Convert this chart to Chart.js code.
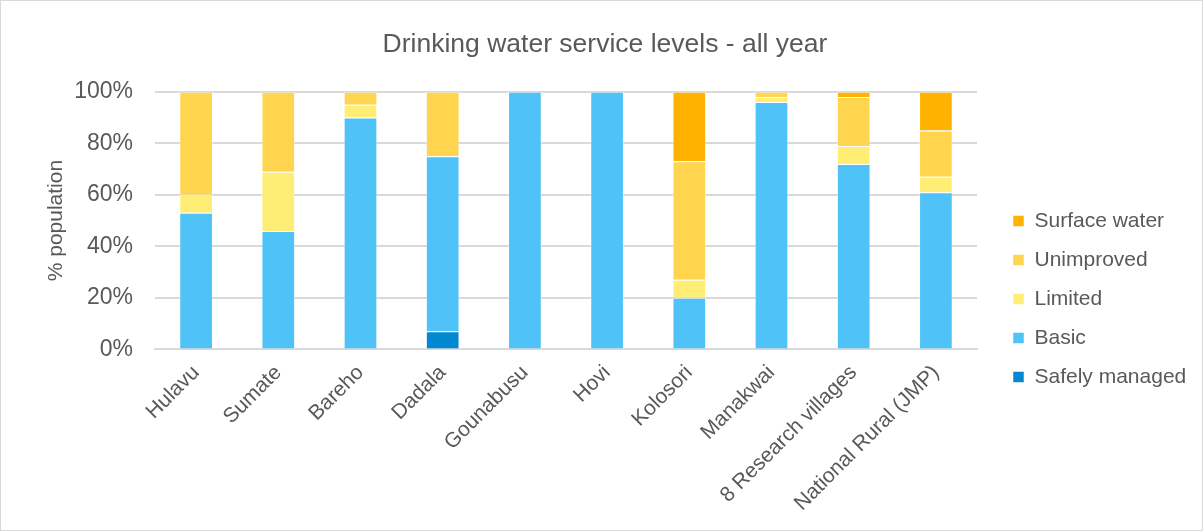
<!DOCTYPE html>
<html>
<head>
<meta charset="utf-8">
<script src="https://cdn.jsdelivr.net/npm/chart.js@4/dist/chart.umd.min.js"></script>
<style>
  html, body { margin: 0; padding: 0; background: #fff; }
  #wrap { position: relative; width: 1201px; height: 529px; border: 1px solid #d9d9d9; }
</style>
</head>
<body>
<div id="wrap"><canvas id="myChart"></canvas></div>
<script>
var places = ['Hulavu', 'Sumate', 'Bareho', 'Dadala', 'Gounabusu', 'Hovi', 'Kolosori', 'Manakwai', '8 Research villages', 'National Rural (JMP)'];
var safelyManaged = [0, 0, 0, 7, 0, 0, 0, 0, 0, 0];
var basic = [53, 46, 90, 68, 100, 100, 20, 96, 72, 61];
var limited = [7, 23, 5, 0, 0, 0, 7, 2, 7, 6];
var unimproved = [40, 31, 5, 25, 0, 0, 46, 2, 19, 18];
var surfaceWater = [0, 0, 0, 0, 0, 0, 27, 0, 2, 15];
var yTicks = ['0%', '20%', '40%', '60%', '80%', '100%'];

var grey = '#595959';
Chart.defaults.font.family = 'Liberation Sans, Arial, sans-serif';
Chart.defaults.color = grey;

function set(label, data, color) {
  return {
    label: label,
    data: data,
    backgroundColor: color,
    borderColor: 'rgba(255,255,255,0.5)',
    borderWidth: 1,
    barPercentage: 0.41,
    categoryPercentage: 1.0
  };
}

var ctx = document.getElementById('myChart').getContext('2d');
var chart = new Chart(ctx, {
  type: 'bar',
  data: {
    labels: places,
    datasets: [
      set('Safely managed', safelyManaged, '#0288D1'),
      set('Basic', basic, '#4FC3F7'),
      set('Limited', limited, '#FFEE75'),
      set('Unimproved', unimproved, '#FFD54F'),
      set('Surface water', surfaceWater, '#FFB300')
    ]
  },
  options: {
    responsive: true,
    maintainAspectRatio: false,
    animation: false,
    layout: { padding: { top: 16, left: 19, right: 12, bottom: 11 } },
    plugins: {
      title: {
        display: true,
        text: 'Drinking water service levels - all year',
        font: { size: 26.5, weight: 'normal' },
        color: grey,
        padding: { top: 12, bottom: 31 }
      },
      legend: {
        position: 'right',
        reverse: true,
        title: { display: true, text: ' ', font: { size: 10 }, padding: 25 },
        labels: {
          boxWidth: 11,
          boxHeight: 11,
          padding: 18,
          font: { size: 21 },
          color: grey
        }
      },
      tooltip: { enabled: false }
    },
    scales: {
      x: {
        stacked: true,
        grid: { display: false },
        border: { color: '#d9d9d9', width: 2 },
        ticks: {
          minRotation: 45,
          maxRotation: 45,
          font: { size: 21 },
          color: grey
        },
        afterFit: function (s) { s.paddingLeft = 0; s.paddingRight = 0; }
      },
      y: {
        stacked: true,
        min: 0,
        max: 100,
        border: { display: false },
        grid: { color: '#d9d9d9', lineWidth: 2, drawTicks: false },
        title: {
          display: true,
          text: '% population',
          font: { size: 21 },
          color: grey,
          padding: { top: 24, bottom: 0 }
        },
        ticks: {
          stepSize: 20,
          padding: 22,
          font: { size: 23 },
          color: grey,
          callback: function (v) { return yTicks[v / 20]; }
        },
        afterFit: function (s) { s.width = 135; }
      },
      // empty spacer between plot and legend
      y2: {
        position: 'right',
        grid: { display: false },
        border: { display: false },
        ticks: { display: false },
        afterFit: function (s) { s.width = 18; }
      }
    }
  }
});
</script>
</body>
</html>
